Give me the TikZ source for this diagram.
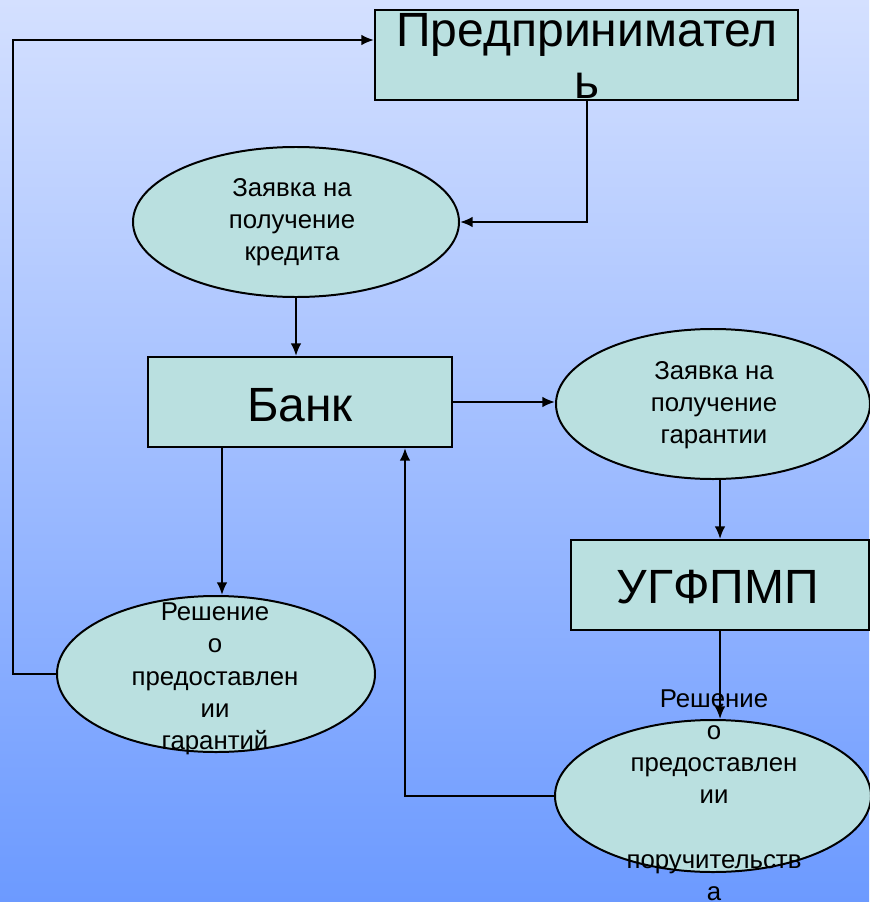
\documentclass[tikz,border=0pt]{standalone}
\usepackage{fontspec}
\setmainfont{Liberation Sans}
\usetikzlibrary{shapes.geometric,arrows.meta}
\definecolor{bgtop}{RGB}{212,224,255}
\definecolor{bgbot}{RGB}{108,154,255}
\definecolor{boxfill}{RGB}{186,224,224}
\begin{document}
\begin{tikzpicture}[x=0.03cm,y=-0.03cm]
\tikzset{blok/.style={draw, line width=1.7pt, fill=boxfill, rectangle, minimum height=2.7cm, inner sep=0pt},
  oval/.style={draw, line width=1.7pt, fill=boxfill, ellipse, inner sep=0pt},
  bigtxt/.style={font=\fontsize{41pt}{45pt}\selectfont, align=center, inner sep=0pt},
  smalltxt/.style={font=\fontsize{22pt}{27.5pt}\selectfont, align=center, inner sep=0pt},
  fleche/.style={line width=1.7pt, -{Latex[length=3.8mm,width=3.2mm]}}}
\shade[top color=bgtop, bottom color=bgbot] (0,0) rectangle (869,902);
\useasboundingbox (0,0) rectangle (869,902);
\node[blok, minimum width=12.69cm] (pred) at (586.5,55) {};
\node[blok, minimum width=9.12cm] (bank) at (300,402) {};
\node[blok, minimum width=8.94cm] (ugf) at (720,585) {};
\node[oval, minimum width=9.78cm, minimum height=4.5cm] (zkr) at (296,222) {};
\node[oval, minimum width=9.42cm, minimum height=4.5cm] (zgar) at (713,404) {};
\node[oval, minimum width=9.54cm, minimum height=4.68cm] (rgar) at (216,674) {};
\node[oval, minimum width=9.48cm, minimum height=4.56cm] (rpor) at (713,796) {};
\node[bigtxt] (tpred) at (587,56) {Предпринимател\\ь};
\node[bigtxt] (tbank) at (300,405) {Банк};
\node[bigtxt] (tugf) at (718,587) {УГФПМП};
\node[smalltxt] (tzkr) at (292,222) {Заявка на\\получение\\кредита};
\node[smalltxt] (tzgar) at (714,405) {Заявка на\\получение\\гарантии};
\node[smalltxt] (trgar) at (215,679) {Решение\\о\\предоставлен\\ии\\гарантий};
\node[smalltxt] (trpor) at (714,795) {Решение\\о\\предоставлен\\ии\\[27.5pt]поручительств\\а};
\coordinate (leftTop) at (13,40);
\coordinate (leftBot) at (13,674);
\coordinate (retBank) at (405,796);
\coordinate (gDn) at (222,0);
\draw[fleche] (rgar.west) -- (leftBot) -- (leftTop) -- (pred.west |- leftTop);
\draw[fleche] (pred.south) |- (zkr.east);
\draw[fleche] (zkr.south) -- (zkr.south |- bank.north);
\draw[fleche] (bank.east) -- (bank.east -| zgar.west);
\draw[fleche] (ugf.north |- zgar.south) -- (ugf.north);
\draw[fleche] (ugf.south) -- (ugf.south |- rpor.north);
\draw[fleche] (rpor.west) -- (retBank) -- (retBank |- bank.south);
\draw[fleche] (bank.south -| gDn) -- (rgar.north -| gDn);
\end{tikzpicture}
\end{document}
